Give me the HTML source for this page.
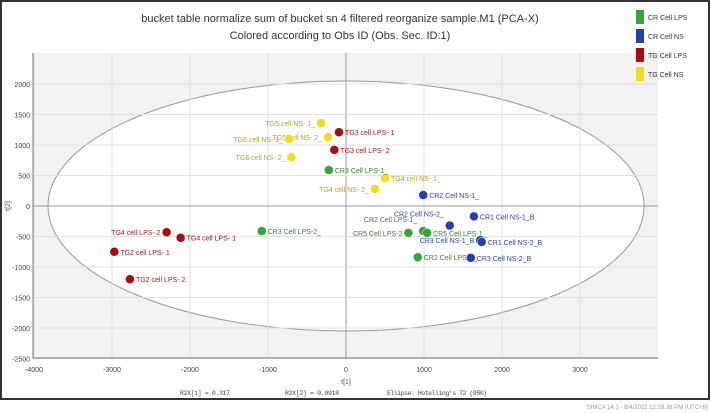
<!DOCTYPE html>
<html><head><meta charset="utf-8"><style>
body{margin:0;background:#fff;}
svg{display:block;font-family:"Liberation Sans",sans-serif;}
</style></head><body>
<svg width="711" height="413" viewBox="0 0 711 413">
<rect x="1" y="1" width="708" height="398" fill="#fff" stroke="#333" stroke-width="2"/>
<text x="340" y="22" text-anchor="middle" font-size="11" fill="#333">bucket table normalize sum of bucket sn 4 filtered reorganize sample.M1 (PCA-X)</text>
<text x="340" y="39" text-anchor="middle" font-size="11" fill="#333">Colored according to Obs ID (Obs. Sec. ID:1)</text>
<g id="plot"></g>
<g id="legend"></g>
<text x="346" y="384" text-anchor="middle" font-size="7" fill="#555">t[1]</text>
<text x="10" y="206" text-anchor="middle" font-size="7" fill="#555" transform="rotate(-90 10 206)">t[2]</text>
<text x="180" y="395" font-size="6.5" textLength="50" fill="#444" font-family="Liberation Mono,monospace">R2X[1] = 0.317</text>
<text x="285" y="395" font-size="6.5" textLength="54" fill="#444" font-family="Liberation Mono,monospace">R2X[2] = 0.0918</text>
<text x="387" y="395" font-size="6.5" textLength="100" fill="#444" font-family="Liberation Mono,monospace">Ellipse: Hotelling's T2 (95%)</text>
<text x="708" y="409" text-anchor="end" font-size="6" fill="#999">SIMCA 14.1 - 8/4/2022 12:28:38 PM (UTC+8)</text>
</svg>
<script>
const xTicks=[-4000,-3000,-2000,-1000,0,1000,2000,3000];
const yTicks=[2000,1500,1000,500,0,-500,-1000,-1500,-2000,-2500];
const groups=["CR Cell LPS","CR Cell NS","TG Cell LPS","TG Cell NS"];
const colors=["#3aa23a","#2a3fae","#a80c0c","#f2dc1e"];
const labelColors=["#3d7a3d","#2a3f9e","#a01818","#b8a020"];
const names=["TG5 cell NS- 1_","TG5 cell NS- 2_","TG6 cell NS- 1_","TG6 cell NS- 2_","TG4 cell NS- 1_","TG4 cell NS- 2_",
"TG3 cell LPS- 1","TG3 cell LPS- 2","TG4 cell LPS- 2","TG4 cell LPS- 1","TG2 cell LPS- 1","TG2 cell LPS- 2",
"CR3 Cell LPS-1_","CR3 Cell LPS-2_","CR5 Cell LPS-2","CR2 Cell LPS-1_","CR5 Cell LPS-1_","CR2 Cell LPS-2_",
"CR2 Cell NS-1_","CR2 Cell NS-2_","CR1 Cell NS-1_B","CR3 Cell NS-1_B","CR1 Cell NS-2_B","CR3 Cell NS-2_B"];
const groupIdx=[3,3,3,3,3,3,2,2,2,2,2,2,0,0,0,0,0,0,1,1,1,1,1,1];
const t1=[-320,-230,-730,-700,500,370,-90,-150,-2300,-2120,-2970,-2770,-220,-1080,800,990,1040,920,990,1330,1640,1720,1740,1600];
const t2=[1360,1130,1100,800,460,280,1210,920,-430,-520,-750,-1200,590,-410,-440,-410,-440,-840,180,-320,-170,-560,-590,-850];
// label placement (styling): side 1 = right, -1 = left; vertical offset
const side=[-1,-1,-1,-1,1,-1,1,1,-1,1,1,1,1,1,-1,-1,1,1,1,-1,1,-1,1,1];
const dyOff=[0,0,0,0,0,0,0,0,0,0,0,0,0,0,0,-12,0,0,0,-12,0,0,0,0];
const NS="http://www.w3.org/2000/svg";
const X0=346,PX=78/1000,Y0=206,PY=61/1000;
const xs=v=>X0+v*PX, ys=v=>Y0-v*PY;
const L=33,R=658,T=53,B=358;
const g=document.getElementById('plot');
function mk(t,a,p){const e=document.createElementNS(NS,t);for(const k in a)e.setAttribute(k,a[k]);(p||g).appendChild(e);return e;}
let bg=mk('rect',{x:L,y:T,width:R-L,height:B-T,fill:'#f2f2f2'});


let el=mk('ellipse',{cx:xs(0),cy:ys(0),rx:298,ry:125,fill:'#fff',stroke:'#999','stroke-width':1});


xTicks.forEach(v=>{
 let l=mk('line',{x1:xs(v),x2:xs(v),y1:T,y2:B,stroke:v===0?'#999':'#e0e0e0','stroke-width':1});
 
 
 let t=mk('text',{x:xs(v),y:B+14,'text-anchor':'middle','font-size':7,fill:'#444'});t.textContent=v;
 
 
});
yTicks.forEach(v=>{
 let l=mk('line',{x1:L,x2:R,y1:ys(v),y2:ys(v),stroke:v===0?'#999':'#e0e0e0','stroke-width':1});
 
 
 let t=mk('text',{x:L-3,y:ys(v)+3,'text-anchor':'end','font-size':7,fill:'#444'});t.textContent=v;
 
 
});
let ax=mk('path',{d:`M${L} ${T} L${L} ${B} L${R} ${B}`,fill:'none',stroke:'#777','stroke-width':1});


t1.forEach((v,i)=>{
 const c=groupIdx[i],cx=xs(v),cy=ys(t2[i]);
 let p=mk('circle',{cx:cx,cy:cy,r:4.5,fill:colors[c],stroke:'#fff','stroke-width':0.5});
 
 
 let t=mk('text',{x:cx+side[i]*6,y:cy+3+dyOff[i],'text-anchor':side[i]>0?'start':'end','font-size':7,fill:labelColors[c]});
 t.textContent=names[i];
 
 
});
const lg=document.getElementById('legend');
groups.forEach((n,i)=>{
 const y=10+i*19;
 let r=mk('rect',{x:636,y:y,width:8,height:14,fill:colors[i]},lg);
 
 
 let t=mk('text',{x:648,y:y+10,'font-size':7,fill:'#333'},lg);t.textContent=n;
 
 
});
</script>
</body></html>
